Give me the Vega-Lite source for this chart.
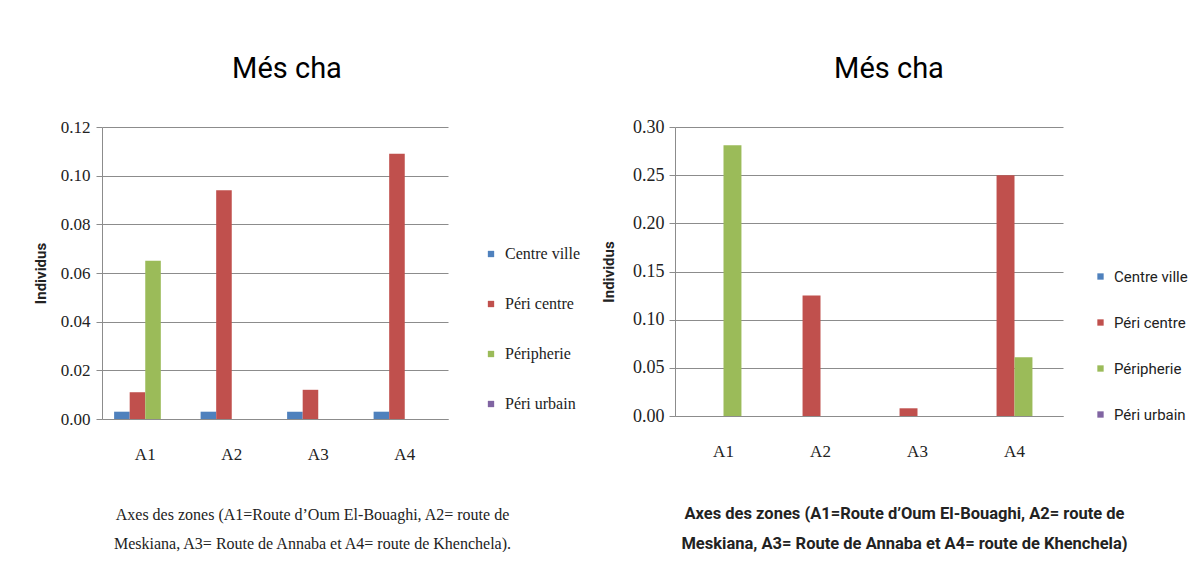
{
  "$schema": "https://vega.github.io/schema/vega-lite/v6.json",
  "background": "white",
  "padding": {"left": 33, "top": 55, "right": 0, "bottom": 0},
  "spacing": 20,
  "config": {
    "view": {"stroke": null},
    "axis": {"gridColor": "#8c8c8c", "domainColor": "#8c8c8c", "tickColor": "#8c8c8c", "labelColor": "#222222", "titleColor": "#222222"}
  },
  "resolve": {
    "scale": {"color": "independent", "y": "independent", "x": "independent", "xOffset": "independent"},
    "legend": {"color": "independent"}
  },
  "hconcat": [
    {
      "width": 346,
      "height": 292,
      "title": {"text": "Més cha", "font": "Roboto", "fontSize": 29, "fontWeight": "normal", "color": "#000000", "dx": 12, "offset": 34},
      "data": {
        "values": [
          {"zone": "A1", "categorie": "Centre ville", "valeur": 0.003},
          {"zone": "A1", "categorie": "Péri centre", "valeur": 0.011},
          {"zone": "A1", "categorie": "Péripherie", "valeur": 0.065},
          {"zone": "A2", "categorie": "Centre ville", "valeur": 0.003},
          {"zone": "A2", "categorie": "Péri centre", "valeur": 0.094},
          {"zone": "A3", "categorie": "Centre ville", "valeur": 0.003},
          {"zone": "A3", "categorie": "Péri centre", "valeur": 0.012},
          {"zone": "A4", "categorie": "Centre ville", "valeur": 0.003},
          {"zone": "A4", "categorie": "Péri centre", "valeur": 0.109}
        ]
      },
      "mark": {"type": "bar"},
      "encoding": {
        "x": {
          "field": "zone", "type": "nominal",
          "scale": {"paddingInner": 0.28, "paddingOuter": 0.14},
          "axis": {
            "labelAngle": 0, "ticks": false, "domain": true, "grid": false,
            "labelFont": "Liberation Serif", "labelFontSize": 17, "labelPadding": 27,
            "title": ["Axes des zones (A1=Route d’Oum El-Bouaghi, A2= route de", "Meskiana, A3= Route de Annaba et A4= route de Khenchela)."],
            "titleFont": "Liberation Serif", "titleFontSize": 16, "titleFontWeight": "normal", "titleLineHeight": 29,
            "titlePadding": 44, "titleX": 210
          }
        },
        "xOffset": {"field": "categorie", "type": "nominal", "scale": {"domain": ["Centre ville", "Péri centre", "Péripherie", "Péri urbain"]}},
        "y": {
          "field": "valeur", "type": "quantitative",
          "scale": {"domain": [0, 0.12], "nice": false},
          "axis": {
            "values": [0, 0.02, 0.04, 0.06, 0.08, 0.1, 0.12], "format": ".2f",
            "grid": true, "domain": true, "ticks": true, "tickSize": 6,
            "labelFont": "Liberation Serif", "labelFontSize": 17, "labelPadding": 6,
            "title": "Individus", "titleFont": "Roboto", "titleFontSize": 15, "titleFontWeight": "bold", "titlePadding": 12
          }
        },
        "color": {
          "field": "categorie", "type": "nominal",
          "scale": {"domain": ["Centre ville", "Péri centre", "Péripherie", "Péri urbain"], "range": ["#4F81BD", "#C0504D", "#9BBB59", "#8064A2"]},
          "legend": {
            "orient": "none", "legendX": 381, "legendY": 119, "title": null,
            "symbolType": "square", "symbolSize": 40, "symbolStrokeWidth": 0,
            "labelFont": "Liberation Serif", "labelFontSize": 16, "labelColor": "#222222", "labelOffset": 6, "rowPadding": 34
          }
        }
      }
    },
    {
      "width": 388,
      "height": 289,
      "title": {"text": "Més cha", "font": "Roboto", "fontSize": 29, "fontWeight": "normal", "color": "#000000", "dx": 20, "offset": 34},
      "data": {
        "values": [
          {"zone": "A1", "categorie": "Péripherie", "valeur": 0.281},
          {"zone": "A2", "categorie": "Péri centre", "valeur": 0.125},
          {"zone": "A3", "categorie": "Péri centre", "valeur": 0.008},
          {"zone": "A4", "categorie": "Péri centre", "valeur": 0.25},
          {"zone": "A4", "categorie": "Péripherie", "valeur": 0.061}
        ]
      },
      "mark": {"type": "bar"},
      "encoding": {
        "x": {
          "field": "zone", "type": "nominal",
          "scale": {"paddingInner": 0.26, "paddingOuter": 0.13},
          "axis": {
            "labelAngle": 0, "ticks": false, "domain": true, "grid": false,
            "labelFont": "Liberation Serif", "labelFontSize": 17, "labelPadding": 27,
            "title": ["Axes des zones (A1=Route d’Oum El-Bouaghi, A2= route de", "Meskiana, A3= Route de Annaba et A4= route de Khenchela)"],
            "titleFont": "Roboto", "titleFontSize": 16.5, "titleFontWeight": "bold", "titleLineHeight": 30,
            "titlePadding": 46, "titleX": 229
          }
        },
        "xOffset": {"field": "categorie", "type": "nominal", "scale": {"domain": ["Centre ville", "Péri centre", "Péripherie", "Péri urbain"]}},
        "y": {
          "field": "valeur", "type": "quantitative",
          "scale": {"domain": [0, 0.3], "nice": false},
          "axis": {
            "values": [0, 0.05, 0.1, 0.15, 0.2, 0.25, 0.3], "format": ".2f",
            "grid": true, "domain": true, "ticks": true, "tickSize": 6,
            "labelFont": "Liberation Serif", "labelFontSize": 18, "labelPadding": 5,
            "title": "Individus", "titleFont": "Roboto", "titleFontSize": 15, "titleFontWeight": "bold", "titlePadding": 16
          }
        },
        "color": {
          "field": "categorie", "type": "nominal",
          "scale": {"domain": ["Centre ville", "Péri centre", "Péripherie", "Péri urbain"], "range": ["#4F81BD", "#C0504D", "#9BBB59", "#8064A2"]},
          "legend": {
            "orient": "none", "legendX": 418, "legendY": 142, "title": null,
            "symbolType": "square", "symbolSize": 40, "symbolStrokeWidth": 0,
            "labelFont": "Roboto", "labelFontSize": 15, "labelColor": "#222222", "labelOffset": 6, "rowPadding": 30
          }
        }
      }
    }
  ]
}
